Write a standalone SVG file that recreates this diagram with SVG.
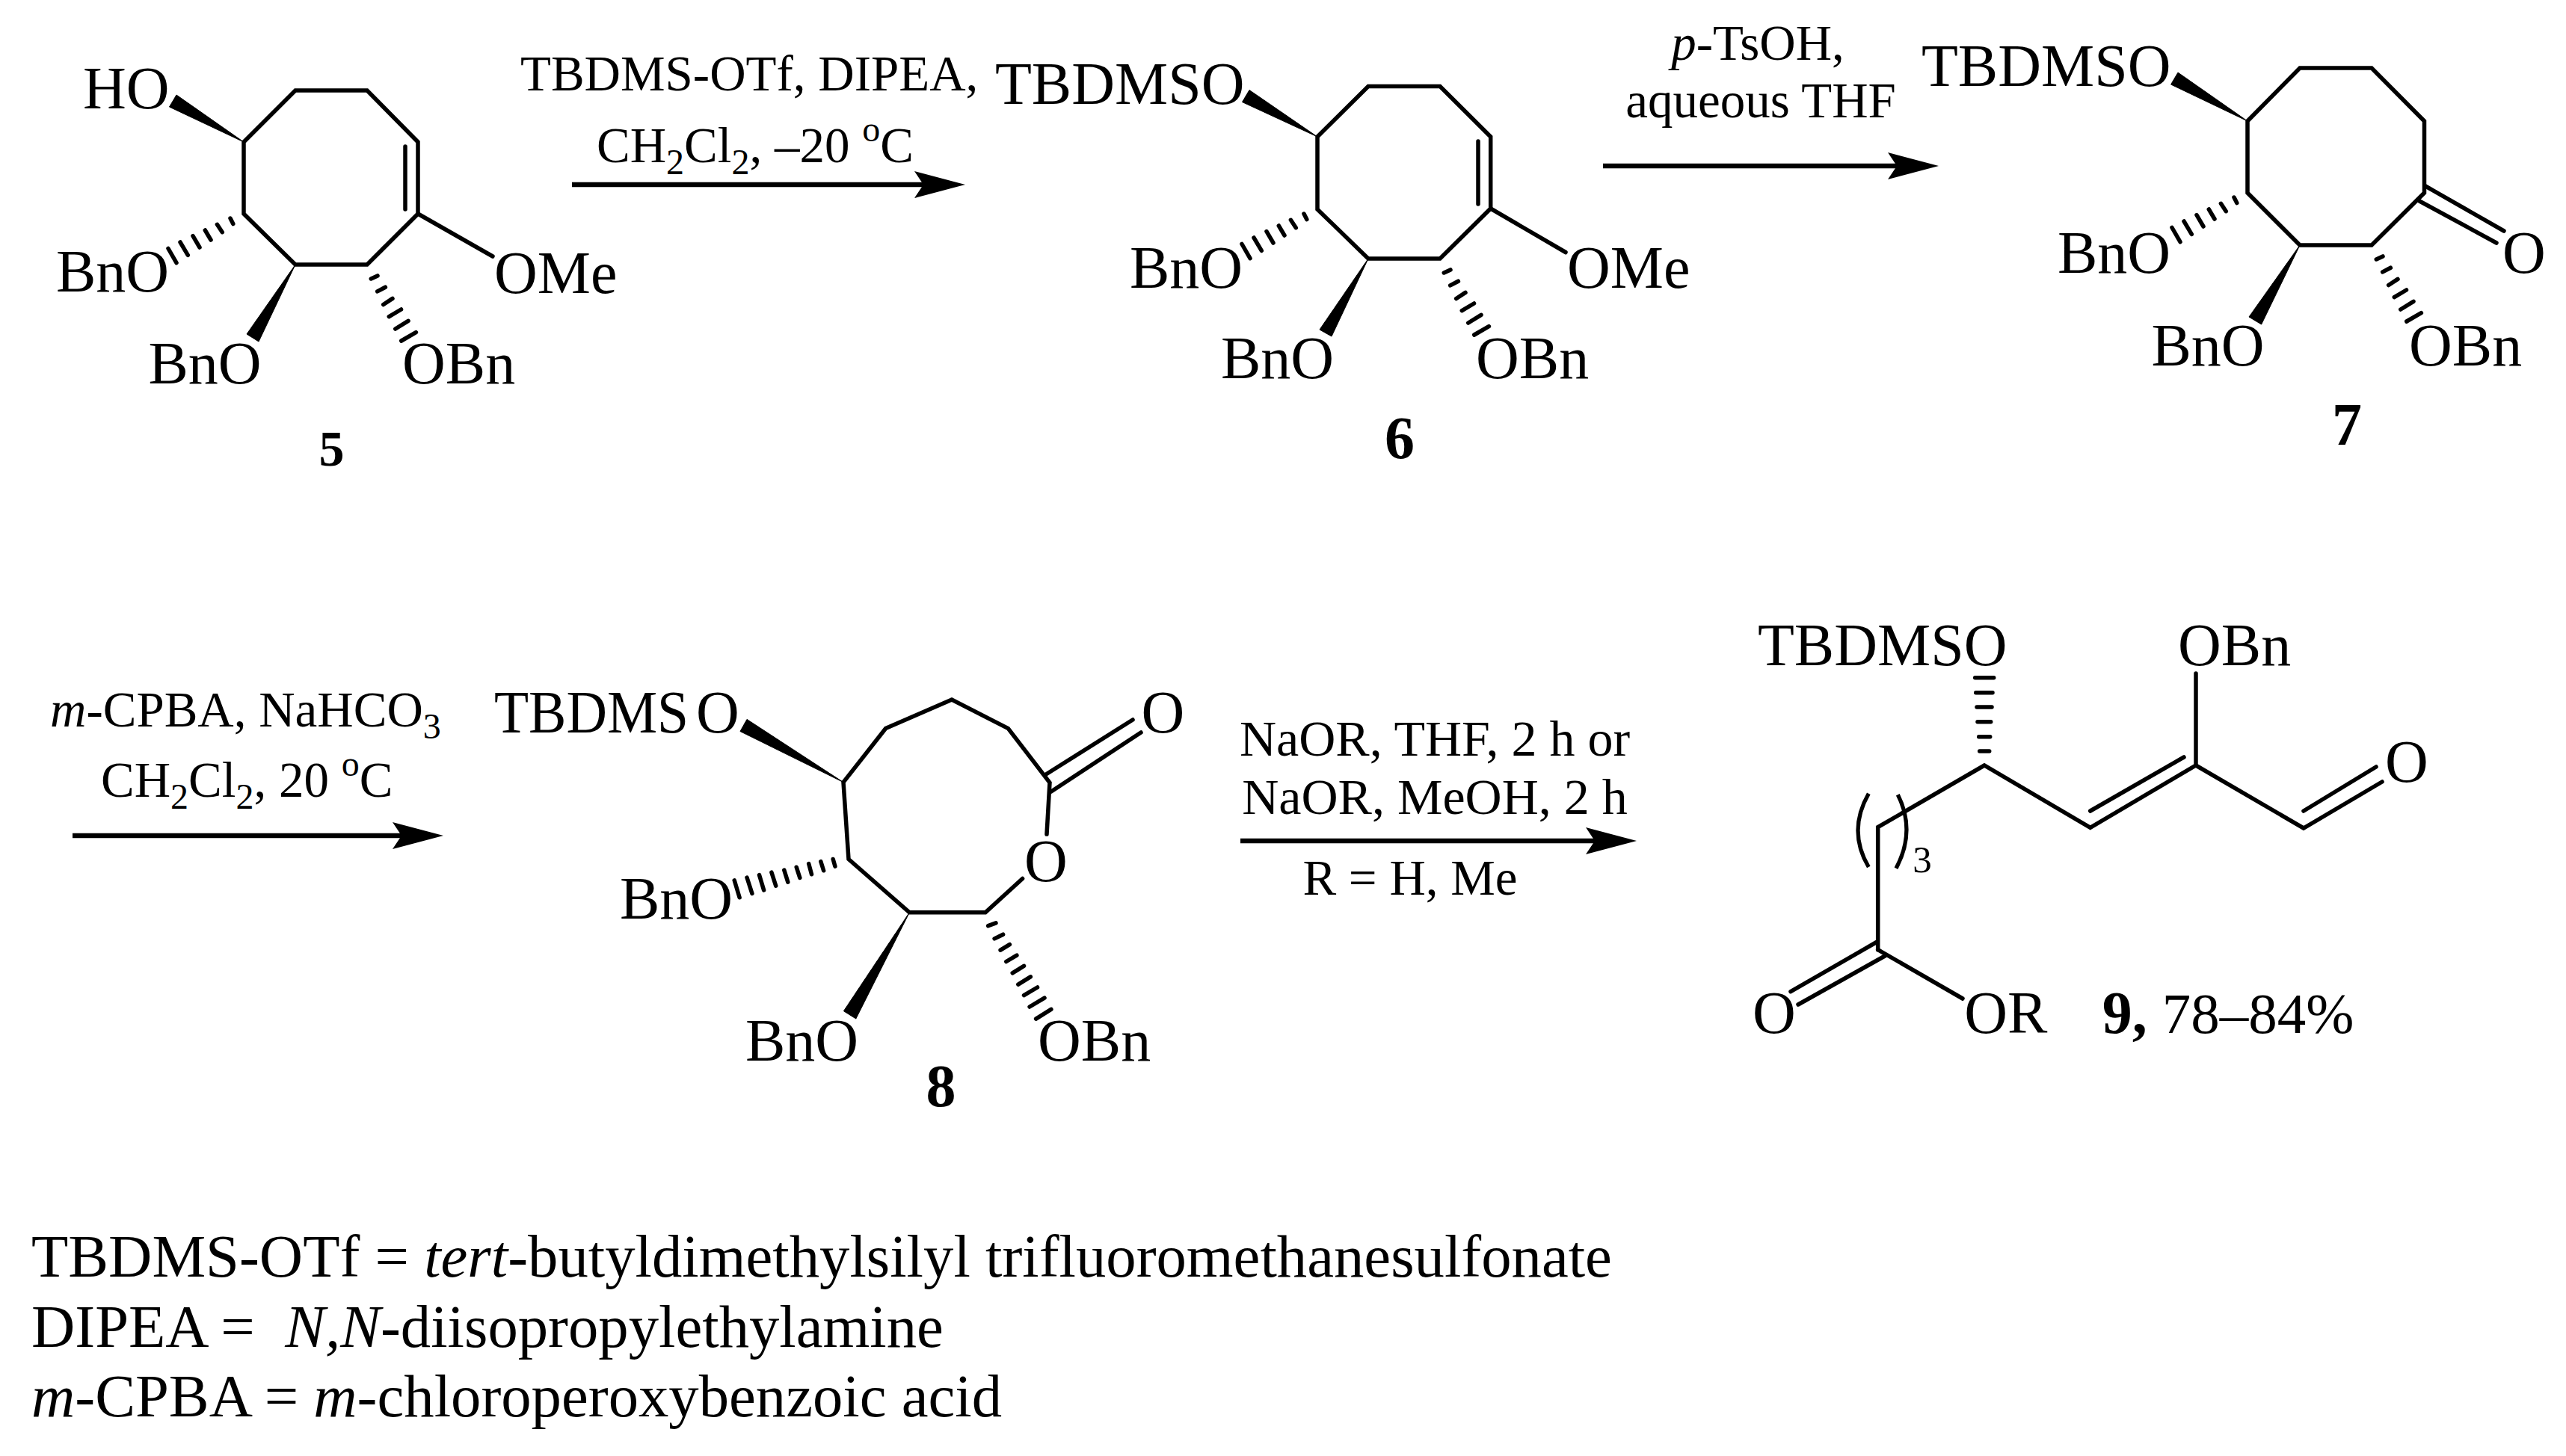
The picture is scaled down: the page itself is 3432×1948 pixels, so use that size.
<svg xmlns="http://www.w3.org/2000/svg" width="3432" height="1948" viewBox="0 0 3432 1948">
<style>
text{font-family:"Liberation Serif","Times New Roman",serif;fill:#000}
.a{font-size:80px}
.leg{font-size:80.7px}
.r{font-size:67px}
.c{text-anchor:middle}
.n{font-size:80px;font-weight:bold;text-anchor:middle}
.s{font-size:48px}
.b{fill:none;stroke:#000;stroke-width:5.5;stroke-linejoin:miter;stroke-linecap:round}
.h{fill:none;stroke:#000;stroke-width:5.5;stroke-linecap:round}
.p{fill:none;stroke:#000;stroke-width:5.3;stroke-linecap:butt}
.w{fill:#000;stroke:#000;stroke-width:1}
.l{stroke:#000;stroke-width:6.5;fill:none}
</style>
<defs>
<marker id="ah" markerUnits="userSpaceOnUse" markerWidth="68" markerHeight="36" viewBox="0 0 68 36" refX="12" refY="18" orient="auto"><path d="M0 0L68 18L0 36L12 18Z" fill="#000"/></marker>
<path id="hL" class="h" d="M-18 6L-14.2 13.6M-35.6 14.3L-28.7 24.7M-51.7 22L-44 35M-68 29.6L-59 45M-85 38L-74.7 55.3M-101 46.5L-90 65.6"/>
<path id="hR" class="h" d="M5.3 19L14 14.9M13.7 35.9L24.4 30.2M21.7 53.5L34 45.4M29.3 69.6L45.5 60M37.8 86L55 75.3M45.8 102L65.4 90.6"/>
</defs>
<rect width="3432" height="1948" fill="#fff"/>

<g id="compound-5">
<polygon class="b" points="326,190 326,286 395,354 491,354 559,286 559,190 491,121 395,121"/>
<line class="b" x1="542" y1="196" x2="542" y2="280"/>
<polygon class="w" points="326,190 236,127 226.5,143"/>
<polygon class="w" points="395,354 330,447 346,457"/>
<use href="#hL" x="326" y="286"/>
<use href="#hR" x="491" y="354"/>
<line class="b" x1="559" y1="286" x2="659" y2="343"/>
<text class="a" x="111" y="145">HO</text>
<text class="a" x="75" y="390">BnO</text>
<text class="a" x="198.500" y="513">BnO</text>
<text class="a" x="661" y="392">OMe</text>
<text class="a" x="538" y="513">OBn</text>
<text class="n" x="443.500" y="622.500" style="font-size:68px">5</text>
</g>

<g id="compound-6">
<polygon class="b" points="1762,183 1762,280 1830,346 1926,346 1993.700,279 1993.700,183 1926,115.500 1830,115.500"/>
<line class="b" x1="1977" y1="189" x2="1977" y2="273"/>
<polygon class="w" points="1762,183 1671,120.500 1661.500,136.500"/>
<polygon class="w" points="1830,346 1765,441 1781,450"/>
<use href="#hL" x="1762" y="280"/>
<use href="#hR" x="1926" y="346"/>
<line class="b" x1="1993.700" y1="279" x2="2094" y2="337.500"/>
<text class="a" x="1331" y="139">TBDMSO</text>
<text class="a" x="1511" y="384.500">BnO</text>
<text class="a" x="1633" y="506">BnO</text>
<text class="a" x="2096" y="384.500">OMe</text>
<text class="a" x="1974" y="506">OBn</text>
<text class="n" x="1872" y="613">6</text>
</g>

<g id="compound-7">
<polygon class="b" points="3006,162 3006,258 3076,328 3172,328 3242.500,258 3242.500,162 3172,91 3076,91"/>
<line class="b" x1="3244" y1="249" x2="3349" y2="309"/>
<line class="b" x1="3236" y1="269" x2="3339" y2="325"/>
<polygon class="w" points="3006,162 2913,97 2903.600,113"/>
<polygon class="w" points="3076,328 3008,424 3024.600,434"/>
<use href="#hL" x="3006" y="258"/>
<use href="#hR" x="3173" y="328"/>
<text class="a" x="2570" y="115">TBDMSO</text>
<text class="a" x="2752" y="365">BnO</text>
<text class="a" x="2877.500" y="488.600">BnO</text>
<text class="a" x="3222" y="488.600">OBn</text>
<text class="a" x="3347" y="365">O</text>
<text class="n" x="3139" y="594.600">7</text>
</g>

<g id="compound-8">
<polyline class="b" points="1367.600,1175.500 1318,1220.700 1216.400,1220.700 1135,1149.500 1128,1046.600 1184.600,974.600 1273,936 1348.400,974.600 1404,1047 1400,1116"/>
<line class="b" x1="1399" y1="1036" x2="1515" y2="963"/>
<line class="b" x1="1406" y1="1059" x2="1526" y2="980"/>
<polygon class="w" points="1128,1046.600 999,962.400 990,978.500"/>
<polygon class="w" points="1216.400,1220.700 1128.400,1352.700 1144.800,1363"/>
<path class="h" d="M1114.200 1149.500L1116.900 1159.100M1097.800 1152.600L1101.600 1164.800M1081.700 1155.600L1085.500 1169.800M1065.200 1160.200L1069.800 1174.400M1048.800 1164.100L1053.800 1180.100M1031.900 1167.100L1037.700 1185.100M1015.500 1170.600L1021.600 1190.900M999 1174L1005.900 1195.400M982.200 1177.800L989.100 1200.800"/>
<path class="h" d="M1321.700 1238.700L1332 1234.900M1330.100 1255.900L1341.600 1250.200M1338.100 1271.200L1350.400 1263.600M1345.800 1286.500L1359.900 1278.100M1354.200 1301.800L1369.500 1292.300M1361.800 1317.100L1378.300 1306.800M1369.500 1331.700L1387.500 1321M1377.100 1347L1397 1335.100M1385.600 1363.100L1405.900 1350.400"/>
<text class="a" x="661" y="980"><tspan textLength="260" lengthAdjust="spacingAndGlyphs">TBDMS</tspan></text>
<text class="a" x="931" y="980">O</text>
<text class="a" x="829" y="1229">BnO</text>
<text class="a" x="997" y="1418.600">BnO</text>
<text class="a" x="1388" y="1418.600">OBn</text>
<text class="a" x="1370" y="1179.400">O</text>
<text class="a" x="1526.400" y="980">O</text>
<text class="n" x="1258.500" y="1480">8</text>
</g>

<g id="compound-9">
<polyline class="b" points="2511.700,1270.700 2511.700,1106.700 2654,1024 2795.700,1107.300 2937,1024 3081,1108 3186,1046"/>
<line class="b" x1="2937" y1="1024" x2="2937" y2="901"/>
<line class="b" x1="2795.700" y1="1085" x2="2921" y2="1013"/>
<line class="b" x1="3081" y1="1085" x2="3178" y2="1026"/>
<line class="b" x1="2510.700" y1="1260" x2="2395" y2="1326.700"/>
<line class="b" x1="2521" y1="1279" x2="2405" y2="1344"/>
<line class="b" x1="2511.700" y1="1270.700" x2="2625" y2="1336"/>
<path class="p" d="M2499.300 1061.700Q2470.700 1111.700 2499.300 1160"/>
<path class="p" d="M2538.300 1063.300Q2562.700 1111.700 2536 1161.700"/>
<path class="h" d="M2641.700 906.700H2666.700M2642.700 926.700H2665M2644 946H2664M2645 965.700H2662.700M2646.700 985.700H2661.700M2647.700 1005H2660.700"/>
<text class="a" x="2351" y="890">TBDMSO</text>
<text class="a" x="2913" y="890">OBn</text>
<text class="a" x="3190" y="1046">O</text>
<text class="a" x="2344" y="1381.700">O</text>
<text class="a" x="2627.300" y="1381.700">OR</text>
<text x="2558.300" y="1167.300" style="font-size:51px">3</text>
<text class="a" x="2811.700" y="1381.700"><tspan font-weight="bold">9,</tspan> <tspan style="font-size:77px">78–84%</tspan></text>
</g>

<g id="connectors">
<line class="l" x1="765" y1="247" x2="1235" y2="247" marker-end="url(#ah)"/>
<line class="l" x1="2144" y1="222" x2="2537" y2="222" marker-end="url(#ah)"/>
<line class="l" x1="97" y1="1118" x2="537" y2="1118" marker-end="url(#ah)"/>
<line class="l" x1="1659" y1="1125" x2="2133" y2="1125" marker-end="url(#ah)"/>
</g>

<g id="reagents">
<text class="r" x="696" y="121">TBDMS-OTf, DIPEA,</text>
<text class="r" x="798" y="217">CH<tspan class="s" dy="16">2</tspan><tspan dy="-16">Cl</tspan><tspan class="s" dy="16">2</tspan><tspan dy="-16">, –20 </tspan><tspan class="s" dy="-28">o</tspan><tspan dy="28">C</tspan></text>
<text class="r c" x="2351" y="80"><tspan font-style="italic">p</tspan>-TsOH,</text>
<text class="r c" x="2355" y="157">aqueous THF</text>
<text class="r" x="67" y="972"><tspan font-style="italic">m</tspan>-CPBA, NaHCO<tspan class="s" dy="16">3</tspan></text>
<text class="r" x="135" y="1066">CH<tspan class="s" dy="16">2</tspan><tspan dy="-16">Cl</tspan><tspan class="s" dy="16">2</tspan><tspan dy="-16">, 20 </tspan><tspan class="s" dy="-28">o</tspan><tspan dy="28">C</tspan></text>
<text class="r c" x="1919" y="1011" style="font-size:68px">NaOR, THF, 2 h or</text>
<text class="r c" x="1919" y="1089" style="font-size:68px">NaOR, MeOH, 2 h</text>
<text class="r c" x="1886" y="1197">R = H, Me</text>
</g>

<g id="legend">
<text class="leg" x="42" y="1708" xml:space="preserve">TBDMS-OTf = <tspan font-style="italic">tert</tspan>-butyldimethylsilyl trifluoromethanesulfonate</text>
<text class="leg" x="42" y="1802" xml:space="preserve">DIPEA =  <tspan font-style="italic">N,N</tspan>-diisopropylethylamine</text>
<text class="leg" x="42" y="1895"><tspan font-style="italic">m</tspan>-CPBA = <tspan font-style="italic">m</tspan>-chloroperoxybenzoic acid</text>
</g>
</svg>
